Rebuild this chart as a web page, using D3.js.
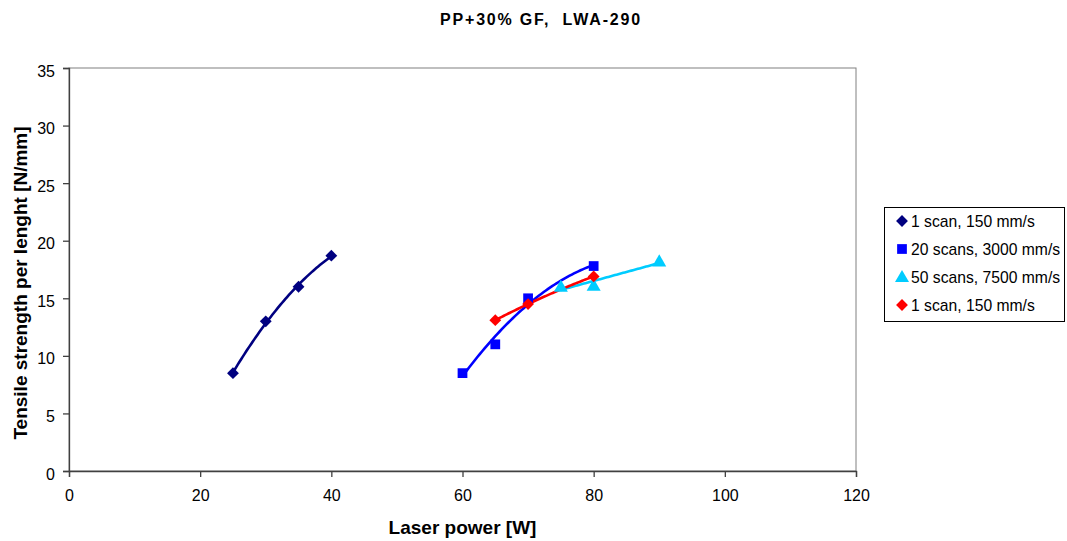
<!DOCTYPE html>
<html>
<head>
<meta charset="utf-8">
<script src="https://cdn.jsdelivr.net/npm/d3@7"></script>
<style>
  body { margin: 0; background: #fff; }
  svg { display: block; font-family: "Liberation Sans", Arial, sans-serif; }
</style>
</head>
<body>
<svg id="chart" width="1067" height="541"></svg>
<script>
// Laser power [W] vs tensile strength per length [N/mm]
const seriesNames = ["1 scan, 150 mm/s", "20 scans, 3000 mm/s", "50 scans, 7500 mm/s", "1 scan, 150 mm/s"];
const seriesColors = ["#000080", "#0000FF", "#00CCFF", "#FF0000"];
const seriesSymbols = ["diamond", "square", "triangle", "diamond"];
const trendOrder = [2, 2, 1, 2];

const powerA = [25, 30, 35, 40];
const strengthA = [8.5, 13.0, 16.0, 18.7];
const powerB = [60, 65, 70, 80];
const strengthB = [8.5, 11.0, 15.0, 17.8];
const powerC = [75, 80, 90];
const strengthC = [16.0, 16.1, 18.2];
const powerD = [65, 70, 80];
const strengthD = [13.1, 14.5, 16.9];

const xTicks = [0, 20, 40, 60, 80, 100, 120];
const yTicks = [0, 5, 10, 15, 20, 25, 30, 35];

const seriesX = [powerA, powerB, powerC, powerD];
const seriesY = [strengthA, strengthB, strengthC, strengthD];

const svg = d3.select("#chart");
const plotL = 69, plotR = 856, plotT = 68, plotB = 471;

const x = d3.scaleLinear().domain([0, 120]).range([plotL, plotR]);
const y = d3.scaleLinear().domain([0, 35]).range([plotB, plotT]);

// least-squares polynomial trendline
function polyFit(xs, ys, order) {
  const n = order + 1;
  const A = Array.from({length: n}, () => new Array(n + 1).fill(0));
  for (let i = 0; i < xs.length; i++) {
    for (let r = 0; r < n; r++) {
      for (let c = 0; c < n; c++) A[r][c] += Math.pow(xs[i], r + c);
      A[r][n] += ys[i] * Math.pow(xs[i], r);
    }
  }
  for (let p = 0; p < n; p++) {
    let m = p;
    for (let r = p + 1; r < n; r++) if (Math.abs(A[r][p]) > Math.abs(A[m][p])) m = r;
    [A[p], A[m]] = [A[m], A[p]];
    for (let r = 0; r < n; r++) {
      if (r === p) continue;
      const f = A[r][p] / A[p][p];
      for (let c = p; c <= n; c++) A[r][c] -= f * A[p][c];
    }
  }
  const coef = A.map((row, i) => row[n] / row[i]);
  return v => coef.reduce((s, k, i) => s + k * Math.pow(v, i), 0);
}

// plot frame
svg.append("rect")
  .attr("x", plotL).attr("y", plotT)
  .attr("width", plotR - plotL).attr("height", plotB - plotT)
  .attr("fill", "none").attr("stroke", "#808080").attr("stroke-width", 1);

// axes
const xAxis = svg.append("g")
  .attr("transform", `translate(0,${plotB})`)
  .call(d3.axisBottom(x).tickValues(xTicks).tickSize(6).tickPadding(13));
const yAxis = svg.append("g")
  .attr("transform", `translate(${plotL},0)`)
  .call(d3.axisLeft(y).tickValues(yTicks).tickSize(6).tickPadding(8));
[xAxis, yAxis].forEach(g => {
  g.select(".domain").attr("stroke", "#404040").attr("stroke-width", 1.3);
  g.selectAll(".tick line").attr("stroke", "#404040").attr("stroke-width", 1.3);
  g.selectAll(".tick text").attr("fill", "#000").style("font-size", "16px")
    .style("font-family", "'Liberation Sans', Arial, sans-serif");
});
yAxis.selectAll(".tick text").attr("dy", "0.5em");

// trendlines
const line = d3.line().x(d => x(d[0])).y(d => y(d[1]));
seriesX.forEach((xs, i) => {
  const f = polyFit(xs, seriesY[i], trendOrder[i]);
  const lo = d3.min(xs), hi = d3.max(xs);
  const pts = d3.range(0, 61).map(k => {
    const v = lo + (hi - lo) * k / 60;
    return [v, f(v)];
  });
  svg.append("path").datum(pts)
    .attr("d", line)
    .attr("fill", "none")
    .attr("stroke", seriesColors[i])
    .attr("stroke-width", 2.6)
    .attr("stroke-linecap", "round");
});

// markers
const symbolSize = {diamond: 70, square: 95, triangle: 85};
function marker(g, name, color, tx, ty) {
  const t = name === "triangle" ? d3.symbolTriangle : d3.symbolSquare;
  g.append("path")
    .attr("d", d3.symbol().type(t).size(symbolSize[name])())
    .attr("transform", `translate(${tx},${ty})` + (name === "diamond" ? " rotate(45)" : "") + (name === "triangle" ? " translate(0,1)" : ""))
    .attr("fill", color);
}
seriesX.forEach((xs, i) => {
  const g = svg.append("g");
  xs.forEach((v, j) => marker(g, seriesSymbols[i], seriesColors[i], x(v), y(seriesY[i][j])));
});

// title
svg.append("text")
  .attr("x", 541).attr("y", 25)
  .attr("text-anchor", "middle")
  .style("font-size", "16px").style("font-weight", "bold")
  .style("letter-spacing", "1.8px")
  .style("white-space", "pre")
  .text("PP+30% GF,  LWA-290");

// axis titles
svg.append("text")
  .attr("x", (plotL + plotR) / 2).attr("y", 534)
  .attr("text-anchor", "middle")
  .style("font-size", "19px").style("font-weight", "bold")
  .text("Laser power [W]");
svg.append("text")
  .attr("transform", "translate(27,283) rotate(-90)")
  .attr("text-anchor", "middle")
  .style("font-size", "19px").style("font-weight", "bold")
  .text("Tensile strength per lenght [N/mm]");

// legend
const legend = svg.append("g");
legend.append("rect")
  .attr("x", 884.5).attr("y", 207.5).attr("width", 180).attr("height", 114)
  .attr("fill", "#fff").attr("stroke", "#000").attr("stroke-width", 1);
seriesNames.forEach((name, i) => {
  const ly = 221 + i * 28;
  marker(legend, seriesSymbols[i], seriesColors[i], 902, ly);
  legend.append("text")
    .attr("x", 911).attr("y", ly + 5.5)
    .style("font-size", "15.7px")
    .text(name);
});
</script>
</body>
</html>
